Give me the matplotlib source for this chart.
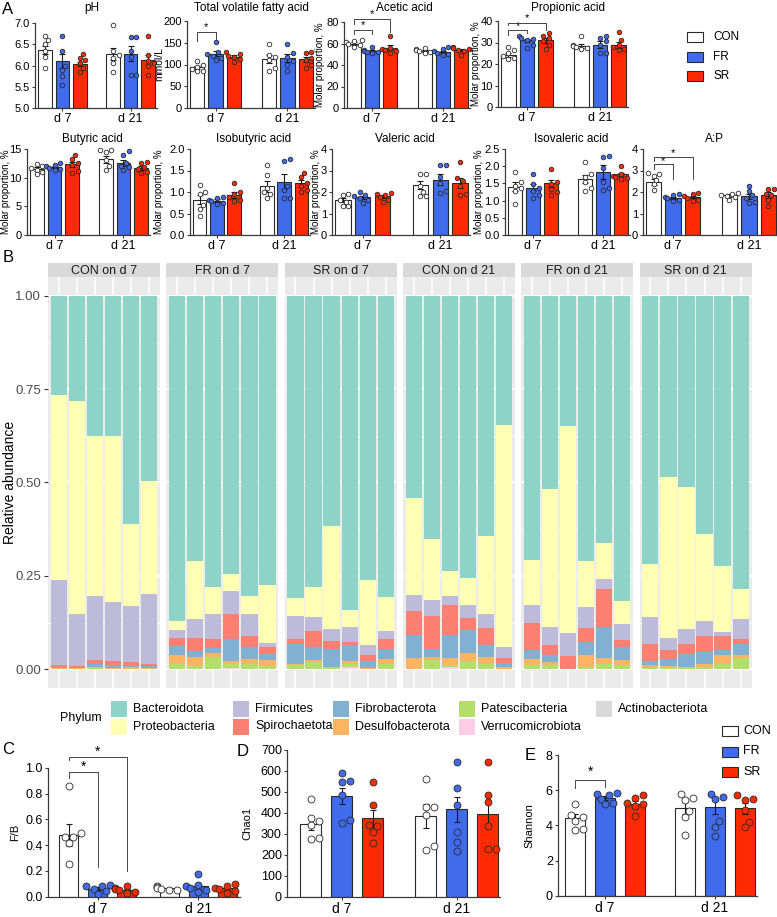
import numpy as np
import matplotlib.pyplot as plt
from matplotlib.patches import Rectangle

plt.rcParams['font.family'] = ['Liberation Sans', 'DejaVu Sans']

W, H = 777, 917

groups = ['CON', 'FR', 'SR']
days = ['d 7', 'd 21']
group_colors = ['white', '#3F6BEC', '#FF2A00']

# order inside every list: CON d7, FR d7, SR d7, CON d21, FR d21, SR d21
ph_mean = [6.36, 6.10, 6.04, 6.28, 6.28, 6.13]
ph_sem = [0.09, 0.17, 0.05, 0.14, 0.17, 0.12]
ph_pts = [[6.70, 6.60, 6.50, 6.35, 6.20, 5.95], [6.70, 6.35, 6.00, 5.90, 5.75, 5.55],
          [6.28, 6.18, 6.12, 6.05, 5.95, 5.85], [6.95, 6.33, 6.25, 6.18, 6.05, 5.85],
          [6.68, 6.68, 6.35, 6.20, 5.78, 5.78], [6.70, 6.25, 6.10, 6.05, 5.98, 5.78]]

tvfa_mean = [93.5, 125, 118, 112, 114, 112]
tvfa_sem = [3.5, 6, 3, 9, 9, 6]
tvfa_pts = [[107, 99, 95, 90, 86, 84], [152, 128, 124, 120, 116, 110],
            [128, 125, 120, 118, 113, 106], [146, 122, 118, 110, 92, 85],
            [146, 126, 118, 108, 100, 86], [128, 126, 116, 110, 100, 92]]

acetic_mean = [60, 53, 56, 53, 52, 54]
acetic_sem = [1.0, 1.0, 2.5, 0.8, 1.2, 1.2]
acetic_pts = [[63, 62, 61, 60, 59, 57], [57, 54, 53, 52, 52, 51], [67, 56, 55, 54, 53, 51],
              [56, 55, 54, 53, 52, 51], [57, 55, 53, 51, 50, 49], [57, 56, 55, 54, 53, 49]]

propionic_mean = [24, 31, 31, 28.5, 29, 29]
propionic_sem = [0.9, 0.8, 1.1, 0.9, 1.5, 1.4]
propionic_pts = [[28, 26.5, 25, 23.7, 22.6, 22.2], [33, 32, 31.5, 31, 29, 27.5],
                 [34.5, 33, 32, 30.5, 29, 27], [33, 29, 28.5, 28, 27.5, 27],
                 [33, 32, 30.5, 29, 25, 25], [35, 31, 29, 28, 27, 26.5]]

butyric_mean = [11.5, 11.8, 12.3, 13.2, 12.6, 11.7]
butyric_sem = [0.3, 0.2, 0.5, 0.6, 0.5, 0.35]
butyric_pts = [[12.3, 12.0, 11.6, 11.4, 11.0, 10.6], [12.5, 12.2, 12.0, 11.7, 11.5, 11.3],
               [14.0, 13.3, 12.5, 12.2, 11.2, 10.8], [14.8, 14.8, 14.5, 13.0, 12.0, 11.3],
               [14.6, 14.0, 12.5, 12.0, 11.8, 11.3], [12.8, 12.5, 11.8, 11.5, 11.0, 10.8]]

isobutyric_mean = [0.82, 0.80, 0.93, 1.13, 1.24, 1.20]
isobutyric_sem = [0.10, 0.03, 0.06, 0.12, 0.17, 0.08]
isobutyric_pts = [[1.17, 1.0, 0.95, 0.7, 0.6, 0.45], [0.88, 0.85, 0.82, 0.78, 0.75, 0.72],
                  [1.2, 1.0, 0.95, 0.88, 0.82, 0.8], [1.62, 1.4, 1.1, 1.0, 0.95, 0.85],
                  [1.77, 1.72, 1.15, 1.05, 0.85, 0.85], [1.45, 1.35, 1.2, 1.15, 1.05, 1.0]]

valeric_mean = [1.62, 1.75, 1.80, 2.32, 2.58, 2.40]
valeric_sem = [0.10, 0.07, 0.06, 0.20, 0.25, 0.23]
valeric_pts = [[1.9, 1.85, 1.65, 1.55, 1.35, 1.35], [2.0, 1.85, 1.8, 1.7, 1.65, 1.5],
               [1.95, 1.92, 1.85, 1.75, 1.65, 1.55], [2.85, 2.85, 2.3, 2.0, 1.8, 1.8],
               [3.27, 3.27, 2.7, 2.4, 2.05, 1.95], [3.38, 2.65, 2.5, 2.3, 1.9, 1.85]]

isovaleric_mean = [1.40, 1.38, 1.50, 1.63, 1.83, 1.76]
isovaleric_sem = [0.13, 0.10, 0.11, 0.12, 0.20, 0.05]
isovaleric_pts = [[1.82, 1.53, 1.43, 1.38, 1.28, 0.90], [1.77, 1.48, 1.38, 1.28, 1.17, 1.07],
                  [1.92, 1.53, 1.48, 1.35, 1.25, 1.17], [2.11, 1.77, 1.70, 1.53, 1.38, 1.28],
                  [2.30, 2.26, 1.96, 1.53, 1.38, 1.30], [2.01, 1.77, 1.72, 1.68, 1.66, 1.63]]

ap_mean = [2.48, 1.74, 1.77, 1.84, 1.80, 1.86]
ap_sem = [0.14, 0.05, 0.05, 0.05, 0.13, 0.12]
ap_pts = [[2.9, 2.86, 2.75, 2.56, 2.38, 2.1], [1.92, 1.85, 1.77, 1.70, 1.65, 1.6],
          [1.95, 1.92, 1.8, 1.72, 1.65, 1.6], [1.95, 1.93, 1.88, 1.82, 1.75, 1.65],
          [2.28, 2.05, 1.85, 1.7, 1.55, 1.5], [2.15, 2.15, 1.9, 1.85, 1.65, 1.35]]

fb_mean = [0.475, 0.063, 0.052, 0.064, 0.082, 0.065]
fb_sem = [0.085, 0.010, 0.008, 0.005, 0.020, 0.010]
fb_pts = [[0.86, 0.49, 0.465, 0.46, 0.42, 0.25], [0.09, 0.085, 0.08, 0.06, 0.045, 0.02],
          [0.085, 0.07, 0.06, 0.05, 0.035, 0.03], [0.08, 0.075, 0.07, 0.06, 0.055, 0.05],
          [0.175, 0.09, 0.085, 0.07, 0.05, 0.04], [0.1, 0.085, 0.07, 0.06, 0.045, 0.03]]

chao1_mean = [347, 481, 374, 385, 417, 395]
chao1_sem = [30, 40, 42, 55, 60, 65]
chao1_pts = [[465, 374, 363, 342, 279, 274], [589, 552, 549, 486, 366, 350],
             [549, 438, 342, 338, 311, 255], [561, 430, 427, 390, 244, 223],
             [642, 521, 438, 311, 263, 220], [645, 486, 454, 338, 228, 228]]

shannon_mean = [4.42, 5.55, 5.22, 4.98, 5.02, 4.96]
shannon_sem = [0.20, 0.12, 0.17, 0.35, 0.40, 0.30]
shannon_pts = [[5.19, 4.59, 4.5, 4.27, 3.77, 3.74], [5.85, 5.8, 5.75, 5.5, 5.25, 5.2],
               [5.7, 5.55, 5.25, 5.2, 5.1, 4.55], [5.8, 5.54, 5.45, 4.8, 4.5, 3.45],
               [5.8, 5.6, 5.5, 4.25, 3.9, 3.4], [5.7, 5.5, 5.45, 4.9, 4.2, 3.9]]

# panel B: phylum relative abundance, 6 samples per facet
facets = ['CON on d 7', 'FR on d 7', 'SR on d 7', 'CON on d 21', 'FR on d 21', 'SR on d 21']
bacteroidota = [.267, .281, .375, .375, .610, .495, .871, .710, .781, .745, .804, .775,
                .810, .780, .616, .842, .761, .806, .541, .650, .738, .756, .642, .346,
                .708, .517, .349, .710, .663, .818, .718, .484, .511, .637, .723, .784]
proteobacteria = [.494, .572, .428, .445, .220, .304, .024, .155, .070, .046, .048, .154,
                  .048, .080, .277, .045, .173, .091, .259, .164, .067, .071, .210, .594,
                  .121, .370, .554, .123, .096, .060, .142, .432, .381, .234, .178, .080]
firmicutes = [.227, .137, .173, .158, .151, .187, .021, .051, .069, .062, .059, .011,
              .062, .038, .032, .040, .028, .021, .044, .044, .022, .036, .037, .030,
              .046, .049, .062, .056, .027, .044, .072, .031, .041, .041, .011, .055]
spirochaetota = [.005, .005, .010, .010, .009, .006, .022, .035, .023, .067, .029, .018,
                 .013, .042, .021, .007, .017, .027, .065, .088, .080, .032, .047, .016,
                 .074, .027, .033, .038, .101, .018, .047, .026, .025, .041, .036, .014]
fibrobacterota = [.003, .002, .007, .008, .005, .004, .025, .016, .013, .058, .032, .018,
                  .053, .036, .048, .044, .017, .028, .061, .021, .063, .061, .031, .009,
                  .024, .017, .001, .035, .084, .036, .010, .019, .036, .032, .014, .029]
desulfobacterota = [.002, .001, .004, .002, .003, .002, .024, .024, .011, .009, .014, .016,
                    .002, .004, .001, .009, .002, .014, .028, .007, .018, .023, .020, .003,
                    .015, .009, .000, .032, .014, .012, .007, .003, .003, .010, .023, .008]
patescibacteria = [.001, .001, .002, .001, .001, .001, .011, .007, .032, .009, .012, .006,
                   .011, .018, .003, .008, .001, .011, .001, .024, .005, .019, .011, .001,
                   .010, .009, .000, .004, .013, .010, .002, .003, .001, .003, .013, .028]
verrucomicrobiota = [.000, .000, .000, .000, .000, .000, .001, .001, .000, .003, .001, .001,
                     .000, .001, .001, .004, .000, .001, .000, .001, .005, .001, .001, .000,
                     .001, .001, .000, .001, .001, .001, .001, .001, .001, .001, .001, .001]
actinobacteriota = [.001, .001, .001, .001, .001, .001, .001, .001, .001, .001, .001, .001,
                    .001, .001, .001, .001, .001, .001, .001, .001, .002, .001, .001, .001,
                    .001, .001, .001, .001, .001, .001, .001, .001, .001, .001, .001, .001]

phyla = ['Bacteroidota', 'Proteobacteria', 'Firmicutes', 'Spirochaetota', 'Fibrobacterota',
         'Desulfobacterota', 'Patescibacteria', 'Verrucomicrobiota', 'Actinobacteriota']
phylum_colors = ['#8DD3C7', '#FFFFB3', '#BEBADA', '#FB8072', '#80B1D3',
                 '#FDB462', '#B3DE69', '#FCCDE5', '#D9D9D9']
phylum_values = [bacteroidota, proteobacteria, firmicutes, spirochaetota, fibrobacterota,
                 desulfobacterota, patescibacteria, verrucomicrobiota, actinobacteriota]


def rect(x0, y0, x1, y1):
    return [x0 / W, 1 - y1 / H, (x1 - x0) / W, (y1 - y0) / H]


def swarm(vals, d_px, px_x, px_y):
    # compact beeswarm: nudge points sideways only as much as needed
    order = np.argsort(vals)
    placed, offs = [], np.zeros(len(vals))
    for i in order:
        y = vals[i] * px_y
        for k in [0, 1, -1, 2, -2, 3, -3]:
            x = k * d_px * 0.5
            if all((x - a) ** 2 + (y - b) ** 2 >= (0.8 * d_px) ** 2 for a, b in placed):
                break
        placed.append((x, y))
        offs[i] = x / px_x
    return offs


def prism_panel(box, means, sems, pts, ylim, yticks, fmt, centers, bw, xlim=None,
                ms=3.3, tick_fs=8, day_fs=9, ylabel=None, ylab_fs=7, ylab_x=None):
    x0, y0, x1, y1 = box
    if xlim is None:
        # bars start ~3 px right of the y axis and end at the axis end
        p = (x1 - x0 - 5) / (centers[-1] + bw)
        xlim = (-bw / 2 - 3 / p, centers[-1] + bw / 2 + 2 / p)
    ax = fig.add_axes(rect(x0, y0, x1, y1))
    ax.set_xlim(*xlim)
    ax.set_ylim(*ylim)
    px_x = (x1 - x0) / (xlim[1] - xlim[0])
    px_y = (y1 - y0) / (ylim[1] - ylim[0])
    d_px = ms * 100 / 72 + 1
    for i in range(6):
        g = i % 3
        ax.bar(centers[i], means[i] - ylim[0], bottom=ylim[0], width=bw, color=group_colors[g],
               edgecolor='#2A2A2A', linewidth=0.8, zorder=2)
        ax.errorbar(centers[i], means[i], yerr=sems[i], fmt='none', ecolor='#1A1A1A',
                    elinewidth=0.8, capsize=2.2, capthick=0.8, zorder=3)
        offs = swarm(np.array(pts[i], float), d_px, px_x, px_y)
        ax.plot(centers[i] + offs, pts[i], 'o', ms=ms, mfc=group_colors[g], mec='#2A2A2A',
                mew=0.6, zorder=4, clip_on=False, linestyle='none')
    for s in ['top', 'right']:
        ax.spines[s].set_visible(False)
    for s in ['left', 'bottom']:
        ax.spines[s].set_color('#3A3A3A')
        ax.spines[s].set_linewidth(0.9)
    ax.set_yticks(yticks)
    ax.set_yticklabels([fmt.format(t) for t in yticks])
    ax.set_xticks([centers[1], centers[4]])
    ax.set_xticklabels(days, fontsize=day_fs)
    ax.tick_params(length=2.5, width=0.8, color='#3A3A3A', labelsize=tick_fs, pad=1.2)
    ax.tick_params(axis='x', labelsize=day_fs)
    if ylabel:
        ax.set_ylabel(ylabel, fontsize=ylab_fs, va='center')
        ax.yaxis.set_label_coords((ylab_x - x0) / (x1 - x0), 0.5)
    return ax


def bracket(ax, x1, x2, ytop, yl, yr, ystar, fs=8):
    ax.plot([x1, x1, x2, x2], [yl, ytop, ytop, yr], color='#444444', lw=0.7, clip_on=False, zorder=5)
    ax.text((x1 + x2) / 2, ystar, '*', ha='center', va='center', fontsize=fs, clip_on=False)


fig = plt.figure(figsize=(W / 100, H / 100), dpi=100)

# ---------------- panel A ----------------
ca = np.array([0, 1, 2, 3.9, 4.9, 5.9])
bwa = 0.78
molar = 'Molar proportion, %'

ax = prism_panel((35, 23, 157, 108), ph_mean, ph_sem, ph_pts, (5, 7), [5, 5.5, 6, 6.5, 7],
                 '{:.1f}', ca, bwa)
fig.text(92 / W, 1 - 8 / H, 'pH', ha='center', va='center', fontsize=8.5)

ax = prism_panel((187, 21, 315, 108), tvfa_mean, tvfa_sem, tvfa_pts, (0, 200), [0, 50, 100, 150, 200],
                 '{:.0f}', ca, bwa, ylabel='mmol/L', ylab_fs=7.5, ylab_x=159)
bracket(ax, 0, 1, 175, 155, 158, 187)
fig.text(251 / W, 1 - 8 / H, 'Total volatile fatty acid', ha='center', va='center', fontsize=8.5)

ax = prism_panel((344, 22, 470, 108), acetic_mean, acetic_sem, acetic_pts, (0, 80), [0, 20, 40, 60, 80],
                 '{:.0f}', ca, bwa, ylabel=molar, ylab_x=320)
bracket(ax, 0, 1, 73, 69, 69, 77)
bracket(ax, 0, 2, 83, 78.5, 71, 87)
fig.text(404 / W, 1 - 8 / H, 'Acetic acid', ha='center', va='center', fontsize=8.5)

ax = prism_panel((498, 21, 628, 107), propionic_mean, propionic_sem, propionic_pts, (0, 40), [0, 10, 20, 30, 40],
                 '{:.0f}', ca, bwa, ylabel=molar, ylab_x=476)
bracket(ax, 0, 1, 35.7, 33.4, 34.2, 37.6)
bracket(ax, 0, 2, 39.1, 38, 35.7, 41.2)
fig.text(568 / W, 1 - 8 / H, 'Propionic acid', ha='center', va='center', fontsize=8.5)

row2 = [
    ((27, 149, 150, 235), butyric_mean, butyric_sem, butyric_pts, (0, 15), [0, 5, 10, 15], '{:.0f}', 'Butyric acid', 6),
    ((190, 149, 310, 235), isobutyric_mean, isobutyric_sem, isobutyric_pts, (0, 2), [0, 0.5, 1, 1.5, 2], '{:.1f}', 'Isobutyric acid', 159),
    ((332, 149, 470, 235), valeric_mean, valeric_sem, valeric_pts, (0, 4), [0, 1, 2, 3, 4], '{:.0f}', 'Valeric acid', 316),
    ((505, 149, 630, 235), isovaleric_mean, isovaleric_sem, isovaleric_pts, (0, 2.5), [0, 0.5, 1, 1.5, 2, 2.5], '{:.1f}', 'Isovaleric acid', 479),
    ((643, 149, 778, 235), ap_mean, ap_sem, ap_pts, (0, 4), [0, 1, 2, 3, 4], '{:.0f}', 'A:P', None),
]
for box, m, s, p, yl, yt, fmt, title, lx in row2:
    lab = molar if lx else None
    ax = prism_panel(box, m, s, p, yl, yt, fmt, ca, bwa, ylabel=lab, ylab_x=lx)
    fig.text(((box[0] + box[2]) / 2 + 4) / W, 1 - 139 / H, title, ha='center', va='center', fontsize=8.5)
    if title == 'A:P':
        bracket(ax, 0, 1, 3.28, 3.05, 2.6, 3.45)
        bracket(ax, 0, 2, 3.65, 3.43, 2.6, 3.82)

# legend for A
for k, g in enumerate(groups):
    yc = 37 + k * 19.5
    fig.add_artist(Rectangle((687 / W, 1 - (yc + 5) / H), 16 / W, 10 / H, transform=fig.transFigure,
                             facecolor=group_colors[k], edgecolor='#2A2A2A', lw=0.8))
    fig.text(713 / W, 1 - yc / H, g, ha='left', va='center', fontsize=8.5)

# ---------------- panel B ----------------
for f in range(6):
    x0 = 48 + f * 118.3
    ax = fig.add_axes(rect(x0, 277, x0 + 112, 688))
    ax.set_facecolor('#EBEBEB')
    bottom = np.zeros(6)
    for vals, col in zip(phylum_values[::-1], phylum_colors[::-1]):
        v = np.array(vals[f * 6:(f + 1) * 6])
        ax.bar(np.arange(6), v, bottom=bottom, width=0.9, color=col, linewidth=0, zorder=2)
        bottom += v
    ax.set_xlim(-0.6, 5.6)
    ax.set_ylim(-0.05, 1.05)
    ax.set_xticks(range(6))
    ax.set_yticks([0, 0.25, 0.5, 0.75, 1.0])
    ax.set_yticks([0.125, 0.375, 0.625, 0.875], minor=True)
    ax.grid(True, which='major', color='white', lw=1.1)
    ax.grid(True, which='minor', axis='y', color='white', lw=0.55)
    ax.set_axisbelow(True)
    for s in ax.spines.values():
        s.set_visible(False)
    ax.tick_params(axis='x', length=0, labelbottom=False)
    ax.tick_params(axis='y', which='minor', length=0)
    if f == 0:
        ax.set_yticklabels(['0.00', '0.25', '0.50', '0.75', '1.00'])
        ax.tick_params(axis='y', length=3, width=0.8, color='#333333', labelsize=9.5,
                       labelcolor='#4D4D4D', pad=2)
    else:
        ax.tick_params(axis='y', length=0, labelleft=False)
    fig.add_artist(Rectangle((x0 / W, 1 - 277 / H), 112 / W, 14 / H, transform=fig.transFigure,
                             facecolor='#D9D9D9', edgecolor='none'))
    fig.text((x0 + 56) / W, 1 - 270.5 / H, facets[f], ha='center', va='center',
             fontsize=9, color='#1A1A1A')

fig.text(10 / W, 1 - 482 / H, 'Relative abundance', rotation=90, ha='center', va='center', fontsize=10)

# phylum legend, filled column by column
fig.text(60 / W, 1 - 718 / H, 'Phylum', ha='left', va='center', fontsize=9)
key_x = [111, 233, 333, 459, 596]
for i, (name, col) in enumerate(zip(phyla, phylum_colors)):
    c, r = divmod(i, 2)
    ytop = 701 + r * 17.5
    fig.add_artist(Rectangle((key_x[c] / W, 1 - (ytop + 16) / H), 16 / W, 16 / H,
                             transform=fig.transFigure, facecolor=col, edgecolor='none'))
    fig.text((key_x[c] + 22) / W, 1 - (ytop + 8) / H, name, ha='left', va='center', fontsize=9)

# ---------------- panels C, D, E ----------------
cc = np.array([0, 1, 2, 3.47, 4.47, 5.47])
ax = prism_panel((48, 767.7, 240, 896.7), fb_mean, fb_sem, fb_pts, (0, 1.0), [0, 0.2, 0.4, 0.6, 0.8, 1.0],
                 '{:.1f}', cc, 0.66, (-0.71, 5.91), ms=5, tick_fs=9, day_fs=10,
                 ylabel='F/B', ylab_fs=8, ylab_x=15)
bracket(ax, 0, 1, 0.97, 0.92, 0.23, 1.01, fs=10)
bracket(ax, 0, 2, 1.085, 1.06, 0.20, 1.125, fs=10)

cd = np.array([0, 1, 2, 3.71, 4.71, 5.71])
prism_panel((287, 750, 500, 896.7), chao1_mean, chao1_sem, chao1_pts, (0, 700), list(range(0, 701, 100)),
            '{:.0f}', cd, 0.68, (-0.77, 6.1), ms=5, tick_fs=9, day_fs=10,
            ylabel='Chao1', ylab_fs=8, ylab_x=247)

ce = np.array([0, 1, 2, 3.67, 4.67, 5.67])
ax = prism_panel((558, 755, 757, 895.7), shannon_mean, shannon_sem, shannon_pts, (0, 8), [0, 2, 4, 6, 8],
                 '{:.0f}', ce, 0.67, (-0.57, 6.07), ms=5, tick_fs=9, day_fs=10,
                 ylabel='Shannon', ylab_fs=8, ylab_x=529)
bracket(ax, 0, 1, 6.6, 6.1, 6.2, 7.05, fs=10)

# legend for C-E
for k, g in enumerate(groups):
    yc = 731 + k * 20.5
    fig.add_artist(Rectangle((722 / W, 1 - (yc + 5) / H), 16 / W, 10 / H, transform=fig.transFigure,
                             facecolor=group_colors[k], edgecolor='#2A2A2A', lw=0.8))
    fig.text(743 / W, 1 - yc / H, g, ha='left', va='center', fontsize=9)

# panel letters
for letter, x, y in [('A', 8, 10), ('B', 8, 258), ('C', 8, 749), ('D', 243, 752), ('E', 530, 756)]:
    fig.text(x / W, 1 - y / H, letter, ha='center', va='center', fontsize=12)

fig.savefig('out.png', dpi=100)
